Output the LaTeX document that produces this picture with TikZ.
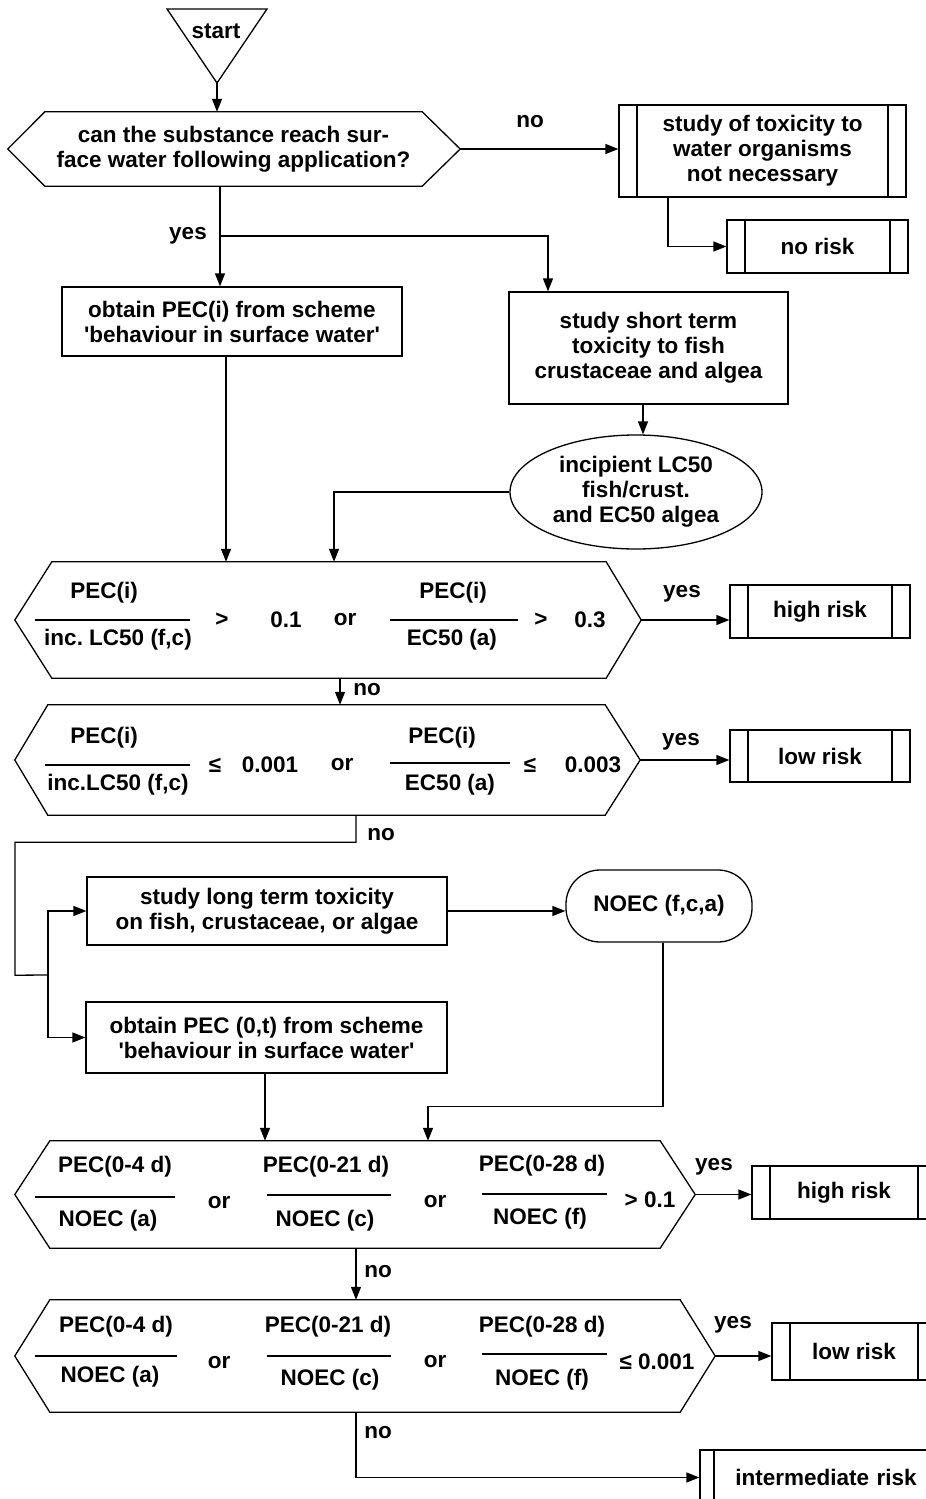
\documentclass[tikz,border=0pt]{standalone}
\usepackage{fontspec}
\setmainfont{Liberation Sans}
\usetikzlibrary{arrows.meta,shapes.geometric,calc}
\frenchspacing
\newcommand\dfont{\fontsize{22.5}{25}\selectfont\bfseries}
% hexagonal decision outline around a (borderless) node: name, left tip, right tip
\newcommand\hexa[3]{\draw[ln] (#1.north west) -- (#1.north east) -- ([xshift=#3]#1.east) coordinate (#1-tip) -- (#1.south east) -- (#1.south west) -- ([xshift=-#2]#1.west) -- cycle;}
\tikzset{
  ln/.style={line width=1.3pt},
  arr/.style={ln,-{Triangle[length=13pt,width=10pt]}},
  txt/.style={inner sep=0pt,font=\dfont,align=center},
  hexn/.style={txt},
  box/.style={txt,draw,ln},
  proc/.style={box,path picture={
      \draw[line width=1.3pt] ([xshift=18pt]path picture bounding box.north west) -- ([xshift=18pt]path picture bounding box.south west);
      \draw[line width=1.3pt] ([xshift=-18pt]path picture bounding box.north east) -- ([xshift=-18pt]path picture bounding box.south east);}},
  procl/.style={box,path picture={
      \draw[line width=1.3pt] ([xshift=14pt]path picture bounding box.north west) -- ([xshift=14pt]path picture bounding box.south west);}},
}
\begin{document}
\begin{tikzpicture}[x=1pt,y=-1pt]
\path[use as bounding box] (0,0) rectangle (926,1499);
\clip (0,0) rectangle (926,1499);

% start
\node[txt] (start) at (216,31) {start};
\draw[ln] (167,9) -- (267,9) -- (217,83) coordinate (start-tip) -- cycle;

% first question
\node[hexn,minimum width=377,minimum height=74] (dec1) at (233.5,149)
  {can the substance reach sur-\\face water following application?};
\hexa{dec1}{37}{38}
\draw[arr] (start-tip) -- (start-tip |- dec1.north);

\node[proc,minimum width=287,minimum height=92] (box1) at (762.5,151)
  {study of toxicity to\\water organisms\\not necessary};
\node[proc,minimum width=181,minimum height=53] (norisk) at (817.5,246.5) {no risk};
\draw[arr] (dec1-tip) -- (dec1-tip -| box1.west);
\node[txt] at (530,122) {no};
\draw[arr] ([xshift=-94.5]box1.south) |- (norisk.west);

% yes branch
\node[box,minimum width=340,minimum height=69] (obt1) at (232,321.5)
  {obtain PEC(i) from scheme\\\textquotesingle behaviour in surface water\textquotesingle};
\node[box,minimum width=279,minimum height=112] (short) at (648.5,348)
  {study short term\\toxicity to fish\\crustaceae and algea};
\coordinate (d1s) at ([xshift=-13.5]dec1.south);
\draw[arr] (d1s) -- (d1s |- obt1.north);
\coordinate (split1) at (d1s |- 0,236);
\draw[arr] (split1) -| ([xshift=-100.5]short.north);
\node[txt] at (188,236) {yes};

\node[txt,draw,ln,ellipse,minimum width=252,minimum height=114] (ell1) at (636,492)
  {incipient LC50\\fish/crust.\\and EC50 algea};
\draw[arr] ([xshift=-5.5]short.south) -- ([xshift=-5.5]short.south |- ell1.north);

% acute ratio test
\node[hexn,minimum width=554,minimum height=116] (dec2) at (329,620) {};
\hexa{dec2}{37}{35}
\draw[arr] ([xshift=-6]obt1.south) -- ([xshift=-6]obt1.south |- dec2.north);
\draw[arr] (ell1.west) -| ([xshift=5]dec2.north);
\node[txt] at (104,593) {PEC(i)};
\draw[ln] (35,620) -- (190,620);
\node[txt] at (118,640) {inc. LC50 (f,c)};
\node[txt] at (222,620) {>};
\node[txt] at (286,620) {0.1};
\node[txt] at (345,620) {or};
\node[txt] at (453,593) {PEC(i)};
\draw[ln] (390,620) -- (518,620);
\node[txt] at (452,640) {EC50 (a)};
\node[txt] at (541,620) {>};
\node[txt] at (590,620) {0.3};

\node[proc,minimum width=180,minimum height=53] (hr1) at (820,611.5) {high risk};
\draw[arr] (dec2-tip) -- (dec2-tip -| hr1.west);
\node[txt] at (682,594) {yes};

\node[hexn,minimum width=557,minimum height=110] (dec3) at (326.5,760) {};
\hexa{dec3}{33}{35}
\draw[arr] ([xshift=11]dec2.south) -- ([xshift=11]dec2.south |- dec3.north);
\node[txt] at (367,690) {no};
\node[txt] at (104,738) {PEC(i)};
\draw[ln] (45,765) -- (190,765);
\node[txt] at (118,785) {inc.LC50 (f,c)};
\node[txt] at (215,765) {≤};
\node[txt] at (270,765) {0.001};
\node[txt] at (342,765) {or};
\node[txt] at (442,738) {PEC(i)};
\draw[ln] (390,763) -- (510,763);
\node[txt] at (450,785) {EC50 (a)};
\node[txt] at (530,765) {≤};
\node[txt] at (593,765) {0.003};

\node[proc,minimum width=180,minimum height=52] (lr1) at (820,756) {low risk};
\draw[arr] (dec3-tip) -- (dec3-tip -| lr1.west);
\node[txt] at (681,742) {yes};

% long term studies
\node[box,minimum width=360,minimum height=68] (lt) at (267,911)
  {study long term toxicity\\on fish, crustaceae, or algae};
\node[box,minimum width=361,minimum height=71] (obt2) at (266.5,1037.5)
  {obtain PEC (0,t) from scheme\\\textquotesingle behaviour in surface water\textquotesingle};
\node[txt,draw,ln,rounded corners=34pt,minimum width=186,minimum height=72] (noec) at (659,906) {NOEC (f,c,a)};
\coordinate (j1) at (48,975);
\draw[ln] ([xshift=29.5]dec3.south) -- ++(0,27) -| ++(-341,133) -- (j1);
\node[txt] at (381,835) {no};
\draw[arr] (j1) |- (lt.west);
\draw[arr] (j1) |- (obt2.west);
\draw[arr] (lt.east) -- (lt.east -| noec.west);

% chronic ratio tests
\node[hexn,minimum width=610,minimum height=107] (dec4) at (355,1194.5) {};
\hexa{dec4}{35}{35}
\draw[arr] ([xshift=-1.5]obt2.south) -- ([xshift=-1.5]obt2.south |- dec4.north);
\draw[arr] ([xshift=4]noec.south) -- ++(0,164) -| ([xshift=73]dec4.north);
\node[txt] at (115,1167) {PEC(0-4 d)};
\draw[ln] (35,1197) -- (175,1197);
\node[txt] at (108,1221) {NOEC (a)};
\node[txt] at (219,1203) {or};
\node[txt] at (326,1167) {PEC(0-21 d)};
\draw[ln] (267,1195) -- (391,1195);
\node[txt] at (325,1221) {NOEC (c)};
\node[txt] at (435,1202) {or};
\node[txt] at (542,1166) {PEC(0-28 d)};
\draw[ln] (482,1194) -- (607,1194);
\node[txt] at (540,1219) {NOEC (f)};
\node[txt] at (650,1200) {> 0.1};

\node[proc,minimum width=184,minimum height=53] (hr2) at (844,1192.5) {high risk};
\draw[arr] (dec4-tip) -- (dec4-tip -| hr2.west);
\node[txt] at (714,1167) {yes};

\node[hexn,minimum width=630,minimum height=112] (dec5) at (365,1356) {};
\hexa{dec5}{35}{35}
\draw[arr] ([xshift=1]dec4.south) -- ([xshift=1]dec4.south |- dec5.north);
\node[txt] at (378,1272) {no};
\node[txt] at (116,1327) {PEC(0-4 d)};
\draw[ln] (35,1356) -- (177,1356);
\node[txt] at (110,1377) {NOEC (a)};
\node[txt] at (219,1363) {or};
\node[txt] at (328,1327) {PEC(0-21 d)};
\draw[ln] (267,1356) -- (391,1356);
\node[txt] at (330,1380) {NOEC (c)};
\node[txt] at (435,1362) {or};
\node[txt] at (542,1327) {PEC(0-28 d)};
\draw[ln] (482,1354) -- (607,1354);
\node[txt] at (542,1380) {NOEC (f)};
\node[txt] at (657,1362) {≤ 0.001};

\node[proc,minimum width=164,minimum height=57] (lr2) at (854,1351.5) {low risk};
\draw[arr] (dec5-tip) -- (dec5-tip -| lr2.west);
\node[txt] at (733,1325) {yes};

\node[procl,minimum width=240,minimum height=55,text width=220pt] (inter) at (820,1477.5) {\hspace*{12pt}intermediate risk};
\draw[arr] ([xshift=-9]dec5.south) |- (inter.west);
\node[txt] at (378,1433) {no};
\end{tikzpicture}
\end{document}
